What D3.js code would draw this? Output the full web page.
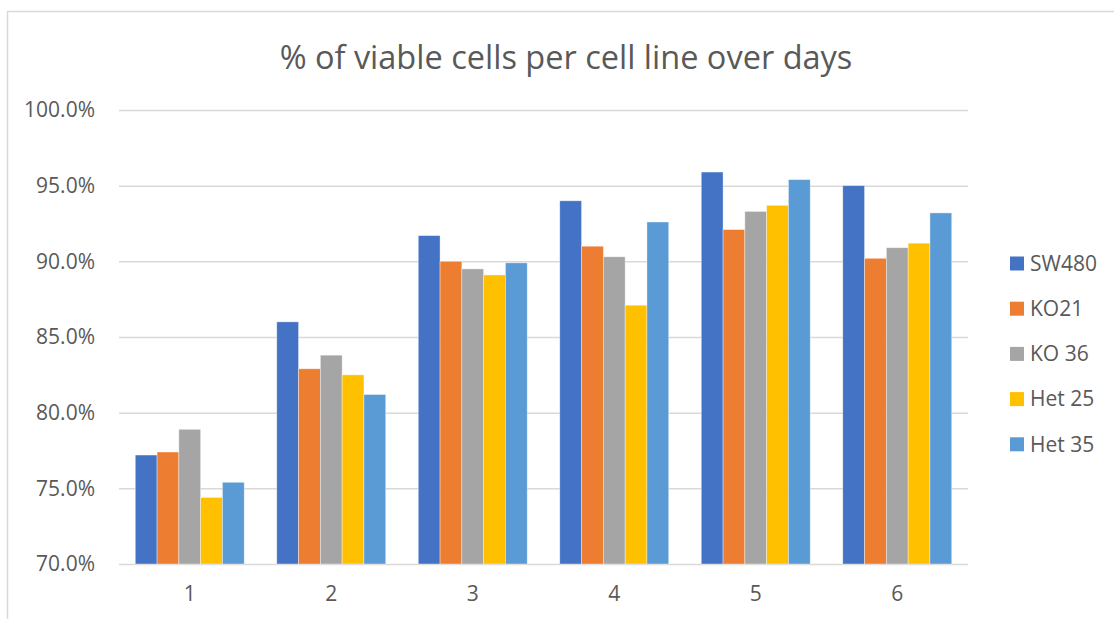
<!DOCTYPE html>
<html><head><meta charset="utf-8">
<script src="https://cdn.jsdelivr.net/npm/d3@7"></script>
<style>body{margin:0;background:#fff}svg{display:block}text{font-family:"Open Sans",sans-serif;fill:#595959}</style>
</head><body><svg id="c" width="1114" height="619"></svg>
<script>
const title = "% of viable cells per cell line over days";
const days = ["1","2","3","4","5","6"];
const seriesNames = ["SW480","KO21","KO 36","Het 25","Het 35"];
const colors = ["#4472C4","#ED7D31","#A5A5A5","#FFC000","#5B9BD5"];
const SW480 = [77.2, 86.0, 91.7, 94.0, 95.9, 95.0];
const KO21  = [77.4, 82.9, 90.0, 91.0, 92.1, 90.2];
const KO36  = [78.9, 83.8, 89.5, 90.3, 93.3, 90.9];
const Het25 = [74.4, 82.5, 89.1, 87.1, 93.7, 91.2];
const Het35 = [75.4, 81.2, 89.9, 92.6, 95.4, 93.2];
const yTicks = [70,75,80,85,90,95,100];
const values = [SW480, KO21, KO36, Het25, Het35];

const svg = d3.select("#c");
svg.append("rect").attr("x",7.5).attr("y",11.5).attr("width",1200).attr("height",700)
  .attr("fill","#fff").attr("stroke","#d9d9d9").attr("stroke-width",1.5);

const L=119, R=968, T=110, B=564;
const x0 = d3.scaleBand().domain(days).range([L,R]).paddingInner(0.23).paddingOuter(0.115);
const x1 = d3.scaleBand().domain(seriesNames).range([0,x0.bandwidth()]);
const y = d3.scaleLinear().domain([70,100]).range([B,T]);

svg.append("text").attr("x",566).attr("y",69).attr("text-anchor","middle")
  .style("font-size","32.5px").text(title);

const gy = svg.append("g").attr("transform",`translate(${L},0)`)
  .call(d3.axisLeft(y).tickValues(yTicks).tickSize(-(R-L)).tickPadding(24).tickFormat(d=>d.toFixed(1)+"%"));
gy.select(".domain").remove();
gy.selectAll(".tick line").attr("stroke","#d9d9d9").attr("stroke-width",1.5);
gy.selectAll(".tick text").style("font-size","21px").attr("fill","#595959");

const gx = svg.append("g").attr("transform",`translate(0,${B})`)
  .call(d3.axisBottom(x0).tickSize(0).tickPadding(22));
gx.select(".domain").remove();
gx.selectAll(".tick text").style("font-size","21px").attr("fill","#595959");

const groups = svg.append("g").selectAll("g").data(days).join("g")
  .attr("transform",d=>`translate(${x0(d)},0)`);
groups.selectAll("rect").data((d,i)=>seriesNames.map((s,j)=>({s,j,v:values[j][i]})))
  .join("rect")
  .attr("x",d=>x1(d.s)).attr("width",x1.bandwidth())
  .attr("y",d=>y(d.v)).attr("height",d=>y(70)-y(d.v))
  .attr("fill",d=>colors[d.j]).attr("stroke","#ffffff").attr("stroke-opacity",0.5).attr("stroke-width",0.75);

const leg = svg.append("g").selectAll("g").data(seriesNames).join("g")
  .attr("transform",(d,i)=>`translate(1010,${263.5+i*45.2})`);
leg.append("rect").attr("x",0).attr("y",-7).attr("width",14).attr("height",14).attr("fill",(d,i)=>colors[i]);
leg.append("text").attr("x",20).attr("dy","0.35em").style("font-size","21px").text(d=>d);
</script></body></html>
